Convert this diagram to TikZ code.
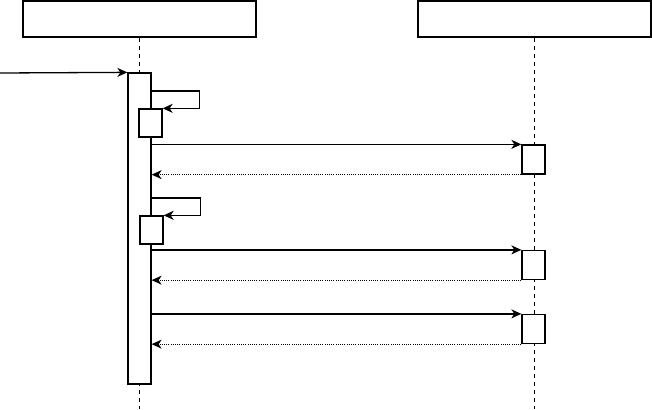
\documentclass[tikz,border=0pt]{standalone}
\usetikzlibrary{arrows.meta}
\begin{document}
\begin{tikzpicture}[x=1pt,y=-1pt,
  box/.style={draw,fill=white,line width=1.3pt,rectangle,inner sep=0pt},
  lifeline/.style={line width=1pt,dash pattern=on 4pt off 4pt},
  msg/.style={line width=1.3pt,-{Stealth[length=10pt,width=9pt,inset=3pt]}},
  ret/.style={line width=1pt,dash pattern=on 1pt off 1.2pt,-{Stealth[length=10pt,width=9pt,inset=3pt]}}]
\useasboundingbox (0,0) rectangle (652,409);
% headers
\node[box,minimum width=233pt,minimum height=36pt] (hA) at (139.5,19) {};
\node[box,minimum width=233pt,minimum height=36pt] (hB) at (534.5,19) {};
\coordinate (endA) at (139.5,409);
\coordinate (endB) at (534,409);
% lifelines
\draw[lifeline] (hA.south) -- (endA);
\draw[lifeline] (hB.south -| endB) -- (endB);
% activations
\node[box,minimum width=23pt,minimum height=311pt] (bar) at (139.5,228.5) {};
\node[box,minimum width=23pt,minimum height=28pt] (s1) at (150.5,123) {};
\node[box,minimum width=23pt,minimum height=28pt] (s2) at (151.5,230) {};
\node[box,minimum width=23pt,minimum height=29pt] (r1) at (533.5,159.5) {};
\node[box,minimum width=23pt,minimum height=29pt] (r2) at (533.5,265) {};
\node[box,minimum width=23pt,minimum height=29pt] (r3) at (533.5,329) {};
% incoming
\coordinate (start) at (0,73);
\draw[msg] (start) -- (bar.north west);
% self calls
\draw[msg] (bar.east |- {(0,91)}) -- ++(48,0) |- (s1.north east);
\draw[msg] (bar.east |- {(0,198)}) -- ++(49,0) |- (s2.north east);
% calls and returns
\draw[msg] (bar.east |- r1.north) -- (r1.north west);
\draw[ret] (r1.south west) -- (bar.east |- r1.south);
\draw[msg] (bar.east |- r2.north) -- (r2.north west);
\draw[ret] (r2.south west) -- (bar.east |- r2.south);
\draw[msg] (bar.east |- r3.north) -- (r3.north west);
\draw[ret] (r3.south west) -- (bar.east |- r3.south);
\end{tikzpicture}
\end{document}
